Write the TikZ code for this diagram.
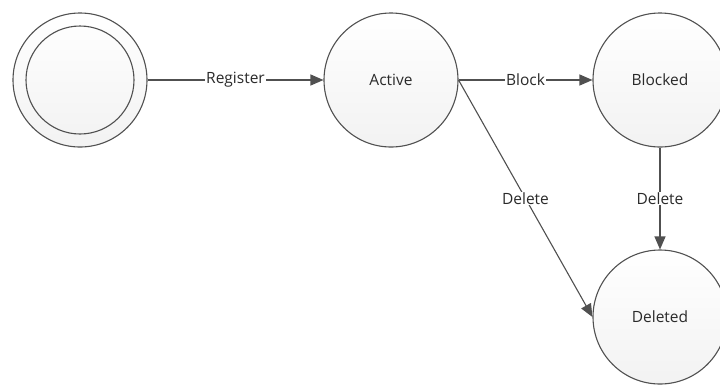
\documentclass[tikz,border=0pt]{standalone}
\usepackage{fontspec}
\setmainfont{Open Sans}
\usetikzlibrary{arrows.meta,shadings}
\definecolor{edge}{HTML}{505050}
\definecolor{txt}{HTML}{2A2A2A}
\tikzset{
  state/.style={circle, draw=edge, line width=1.1pt, top color=white, bottom color=black!5, minimum size=134pt, inner sep=0pt, font=\fontsize{15.5}{18}\selectfont, text=txt},
  conn/.style={draw=edge, line width=1.1pt, -{Triangle[length=13pt,width=11pt]}},
  lbl/.style={fill=white, inner sep=1pt, font=\fontsize{15.5}{18}\selectfont, text=txt}
}
\begin{document}
\begin{tikzpicture}[x=1pt,y=-1pt]
\useasboundingbox (0,0) rectangle (720,384);
\node[state] (start) at (80,80) {};
\node[circle, draw=edge, line width=1.1pt, minimum size=108pt, inner sep=0pt] (startin) at (80,80) {};
\node[state] (active) at (391,80) {Active};
\node[state] (blocked) at (660,80) {Blocked};
\node[state] (deleted) at (660,317) {Deleted};
\draw[conn] (start.east) -- node[lbl] {Register} (active.west);
\draw[conn] (active.east) -- node[lbl] {Block} (blocked.west);
\draw[conn] (active.east) -- node[lbl] {Delete} (deleted.west);
\draw[conn] (blocked.south) -- node[lbl] {Delete} (deleted.north);
\end{tikzpicture}
\end{document}
